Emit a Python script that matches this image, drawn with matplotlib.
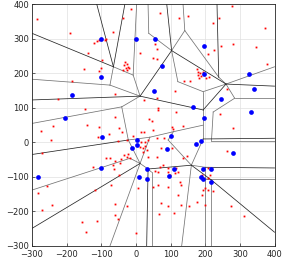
import matplotlib
matplotlib.use('Agg')
import matplotlib.pyplot as plt

# sample points (red) and cluster centres (blue)
red_x = [-285, -190, -38, -15, -65, -120, -113, -106, -90, -85,
         -138, -98, -150, -101, -106,
         -31, -27, -35, -22, -29, -19, -25, -38,
         12, -185, -61, -224, -147, 24, -61, 38, 45,
         -238, -140, -107, -48, -41,
         69, 124, 149, 278, 223, 240, 372,
         55, 60, 50, 61, 207, 225, 245, 279, 346, 377,
         175, 180, 185, 178, 189, 194, 202, 211, 182,
         139, 156, 112, 264, 60, 64, 63, 117, 242,
         103, 136, 279,
         -275, -246, -78, -109, -51, -27, -8, 16, 24,
         -270, -87, -75, -61, -44, -35, -22, -27, -17, -46, -65, -63, -123,
         -258, -282, -49, 6, -117, -72,
         -241, -60, -25, -272, -61, -51, -156, -113, -144, -1,
         12, 19, 26, 21, 31, 16, 26,
         50, 108, 35, 60, 81, 72, 105, 35, 60, 264, 146, 135,
         79, 69, 93, 117, 122, 112, 98, 93, 55, 64,
         209, 213, 209, 190, 127, 130, 50, 64, 93,
         199, 194, 191, 209, 223, 120, 72, 93, 130, 153, 175, 199,
         66, 110, 274, 312]
red_y = [358, 318, 361, 386, 321, 287, 293, 297, 298, 300,
         258, 239, 212, 216, 207,
         234, 227, 224, 219, 215, 215, 210, 210,
         260, 178, 139, 125, 96, 123, 74, 68, 63,
         47, 49, 45, 41, 29,
         376, 360, 367, 395, 347, 361, 330,
         284, 270, 244, 241, 255, 268, 280, 284, 277, 226,
         212, 205, 200, 195, 192, 205, 187, 190, 188,
         179, 178, 150, 154, 129, 100, 94, 89, 82,
         45, 47, 43,
         33, 8, 24, 16, 4, 7, 19, 29, 29,
         -32, -46, -45, -54, -49, -37, -35, -42, -46, -61, -64, -77, -72,
         -125, -146, -95, -132, -138, -124,
         -181, -179, -184, -197, -209, -223, -231, -228, -259, -261,
         -13, -17, -10, -27, -22, 0, 2,
         36, 39, 7, 13, 12, -16, -17, -42, -42, -24, -40, -46,
         -66, -71, -75, -75, -85, -90, -95, -85, -83, -85,
         -75, -95, -104, -95, -114, -122, -129, -124, -129,
         -132, -138, -153, -138, -141, -153, -175, -184, -182, -185, -174, -182,
         -206, -203, -184, -213]

blue_x = [-100, 0, -100, -185, -205, 55, 196, 74, 196, 326, 53, 340, 245,
          165, 332, 196, -99, -282, -102, 4, -11, 2, 8, 31, 31, 101, 91,
          172, 187, 281, 110, 95, 194, 218, 189, 194, 218]
blue_y = [300, 300, 190, 137, 71, 300, 280, 221, 198, 198, 150, 154, 125,
          103, 89, 72, 17, -101, -75, 8, -16, -8, -101, -77, -107, 18, -19,
          -5, 5, -30, -77, -98, -78, -78, -101, -106, -116]

# cell boundaries (x1, y1, x2, y2)
dark_edges = [
    (-300, 316, -65, 219), (-113, 400, -65, 219), (-32, 400, -65, 219),
    (-300, 123, 12, 134), (103, 266, 12, 134), (12, 134, 194, 94),
    (89, 400, 103, 266), (234, 400, 239, 189), (103, 266, 260, 169),
    (260, 169, 400, 163), (260, 169, 194, 94), (-300, -35, -22, 7),
    (194, 10, 400, 12), (-300, -249, 12, -61), (35, -77, 31, -300),
    (35, -77, 160, -66), (160, -66, 218, -109), (218, -109, 400, -260),
    (199, -72, 400, -74),
]
light_edges = [
    (2, 400, -8, 195), (-65, 219, -8, 195), (-65, 219, -75, 166),
    (-300, 183, -75, 166), (-75, 166, 12, 134), (35, 400, 37, 316),
    (37, 316, 103, 266), (136, 400, 141, 324), (141, 324, 103, 266),
    (141, 324, 239, 189), (239, 189, 260, 169), (260, 169, 400, 219),
    (260, 169, 285, 128), (285, 128, 400, 128), (285, 128, 223, 88),
    (103, 266, 121, 176), (121, 176, 194, 147), (194, 147, 194, 94),
    (194, 147, 260, 169), (-8, 195, 12, 134), (-300, 55, -41, 103),
    (-41, 103, 12, 134), (-41, 103, -22, 7), (-22, 7, 40, 15),
    (40, 15, 108, 31), (108, 31, 194, 50), (194, 94, 194, 10),
    (223, 88, 218, 4), (218, 4, 400, 4), (194, 10, 160, -66),
    (40, 15, 12, -61), (-22, 7, 12, -61), (-300, -138, -17, -46),
    (-17, -46, 12, -61), (12, -61, -75, -300), (12, -61, 35, -77),
    (35, -77, 45, -86), (45, -86, 45, -300), (160, -66, 132, -300),
    (160, -66, 199, -72), (199, -72, 199, -105), (199, -105, 199, -300),
    (218, -109, 218, -300), (199, -105, 400, -105), (199, -105, 218, -109),
    (93, 7, 160, -66), (108, 31, 93, 7),
]

ticks = [-300, -200, -100, 0, 100, 200, 300, 400]

fig = plt.figure(figsize=(2.93, 2.61), dpi=100)
ax = fig.add_axes([0.1092, 0.0575, 0.8277, 0.926])

for x1, y1, x2, y2 in light_edges:
    ax.plot([x1, x2], [y1, y2], '-', color='0.45', linewidth=0.55, zorder=2)
for x1, y1, x2, y2 in dark_edges:
    ax.plot([x1, x2], [y1, y2], '-', color='0.15', linewidth=0.55, zorder=2)

ax.plot(red_x, red_y, 's', color='red', markersize=1.3, markeredgewidth=0, zorder=3)
ax.plot(blue_x, blue_y, 'o', color='blue', markersize=3.4, markeredgewidth=0, zorder=4)

ax.set_xlim(-300, 400)
ax.set_ylim(-300, 400)
ax.set_xticks(ticks)
ax.set_yticks(ticks)
ax.tick_params(labelsize=6, length=2, width=0.5, colors='0.15', direction='in')
ax.tick_params(axis='x', pad=3)
ax.tick_params(axis='y', pad=2)
ax.grid(True, color='0.88', linewidth=0.5)
ax.set_axisbelow(True)
for s in ax.spines.values():
    s.set_color('0.15')
    s.set_linewidth(0.6)

fig.savefig('out.png', dpi=100)
